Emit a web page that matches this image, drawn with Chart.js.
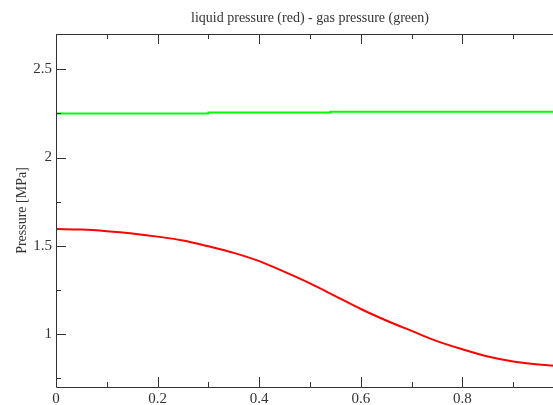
<!DOCTYPE html>
<html>
<head>
<meta charset="utf-8">
<script src="https://cdn.jsdelivr.net/npm/chart.js@4/dist/chart.umd.min.js"></script>
<style>
    html, body { margin: 0; padding: 0; background: #fff; overflow: hidden; }
    #wrap { position: absolute; left: 0; top: 0; width: 580px; height: 420px; }
</style>
</head>
<body>
<div id="wrap"><canvas id="c" width="580" height="420"></canvas></div>
<script>
// values
const liquidX = [0, 0.05, 0.1, 0.15, 0.2, 0.25, 0.3, 0.35, 0.4, 0.45, 0.5, 0.55, 0.6, 0.65, 0.7, 0.75, 0.8, 0.85, 0.9, 0.95, 1.0];
const liquidP = [1.595, 1.592, 1.583, 1.570, 1.552, 1.530, 1.497, 1.460, 1.413, 1.352, 1.287, 1.215, 1.142, 1.077, 1.018, 0.960, 0.914, 0.873, 0.845, 0.828, 0.818];
const gasX    = [0, 0.3, 0.3, 0.54, 0.54, 1.0];
const gasP    = [2.250, 2.250, 2.255, 2.255, 2.260, 2.260];

const xMajor = [0, 0.2, 0.4, 0.6, 0.8, 1.0];
const xMinor = [0.1, 0.3, 0.5, 0.7, 0.9];
const yMajor = [1, 1.5, 2, 2.5];
const yMinor = [0.75, 1.25, 1.75, 2.25];

const subtitle = 'liquid pressure (red) - gas pressure (green)';

const INK = '#333333';
const SERIF = '"Liberation Serif", "DejaVu Serif", serif';

// frame + inward ticks, and the subtitle centred over the plot
const frameTicks = {
    id: 'frameTicks',
    afterDraw(chart) {
        const { ctx, chartArea: a, scales: { x, y } } = chart;
        ctx.save();
        ctx.strokeStyle = INK;
        ctx.lineWidth = 1;
        ctx.beginPath();
        ctx.moveTo(a.right + 0.5, a.top + 0.5);
        ctx.lineTo(a.left + 0.5, a.top + 0.5);
        ctx.lineTo(a.left + 0.5, a.bottom + 0.5);
        ctx.lineTo(a.right + 0.5, a.bottom + 0.5);
        const tx = (v, len) => {
            const p = Math.round(x.getPixelForValue(v)) + 0.5;
            ctx.moveTo(p, a.bottom); ctx.lineTo(p, a.bottom - len);
            ctx.moveTo(p, a.top);    ctx.lineTo(p, a.top + len);
        };
        const ty = (v, len) => {
            const p = Math.round(y.getPixelForValue(v)) + 0.5;
            ctx.moveTo(a.left, p); ctx.lineTo(a.left + len, p);
        };
        xMajor.forEach(v => tx(v, 10));
        xMinor.forEach(v => tx(v, 5));
        yMajor.forEach(v => ty(v, 10));
        yMinor.forEach(v => ty(v, 5));
        ctx.stroke();

        ctx.fillStyle = INK;
        ctx.font = '14px ' + SERIF;
        ctx.textAlign = 'center';
        ctx.textBaseline = 'alphabetic';
        ctx.fillText(subtitle, (a.left + a.right) / 2, 22);
        ctx.restore();
    }
};

new Chart(document.getElementById('c').getContext('2d'), {
    type: 'line',
    data: {
        datasets: [
            {
                label: 'gas pressure',
                data: gasX.map((v, i) => ({ x: v, y: gasP[i] })),
                borderColor: '#00ff00',
                borderWidth: 2,
                pointRadius: 0,
                tension: 0,
            },
            {
                label: 'liquid pressure',
                data: liquidX.map((v, i) => ({ x: v, y: liquidP[i] })),
                borderColor: '#ff0000',
                borderWidth: 2,
                pointRadius: 0,
                cubicInterpolationMode: 'monotone',
            },
        ],
    },
    options: {
        responsive: false,
        animation: false,
        layout: { padding: { top: 34, right: 16, bottom: 0, left: 0 } },
        scales: {
            x: {
                type: 'linear',
                min: 0, max: 1,
                afterBuildTicks: s => { s.ticks = xMajor.map(v => ({ value: v })); },
                afterFit: s => { s.height = 33; },
                grid: { display: false, drawTicks: false },
                border: { display: false },
                ticks: { color: INK, padding: 3, font: { family: SERIF, size: 15 }, callback: v => String(v) },
            },
            y: {
                min: 0.7, max: 2.7,
                afterBuildTicks: s => { s.ticks = yMajor.map(v => ({ value: v })); },
                afterFit: s => { s.width = 56; },
                grid: { display: false, drawTicks: false },
                border: { display: false },
                ticks: { color: INK, padding: 4, font: { family: SERIF, size: 15 }, callback: v => String(v) },
                title: { display: true, text: 'Pressure [MPa]', color: INK, padding: { top: 14, bottom: 0 }, font: { family: SERIF, size: 14 } },
            },
        },
        plugins: {
            legend: { display: false },
            tooltip: { enabled: false },
            title: { display: false },
        },
    },
    plugins: [frameTicks],
});
</script>
</body>
</html>
